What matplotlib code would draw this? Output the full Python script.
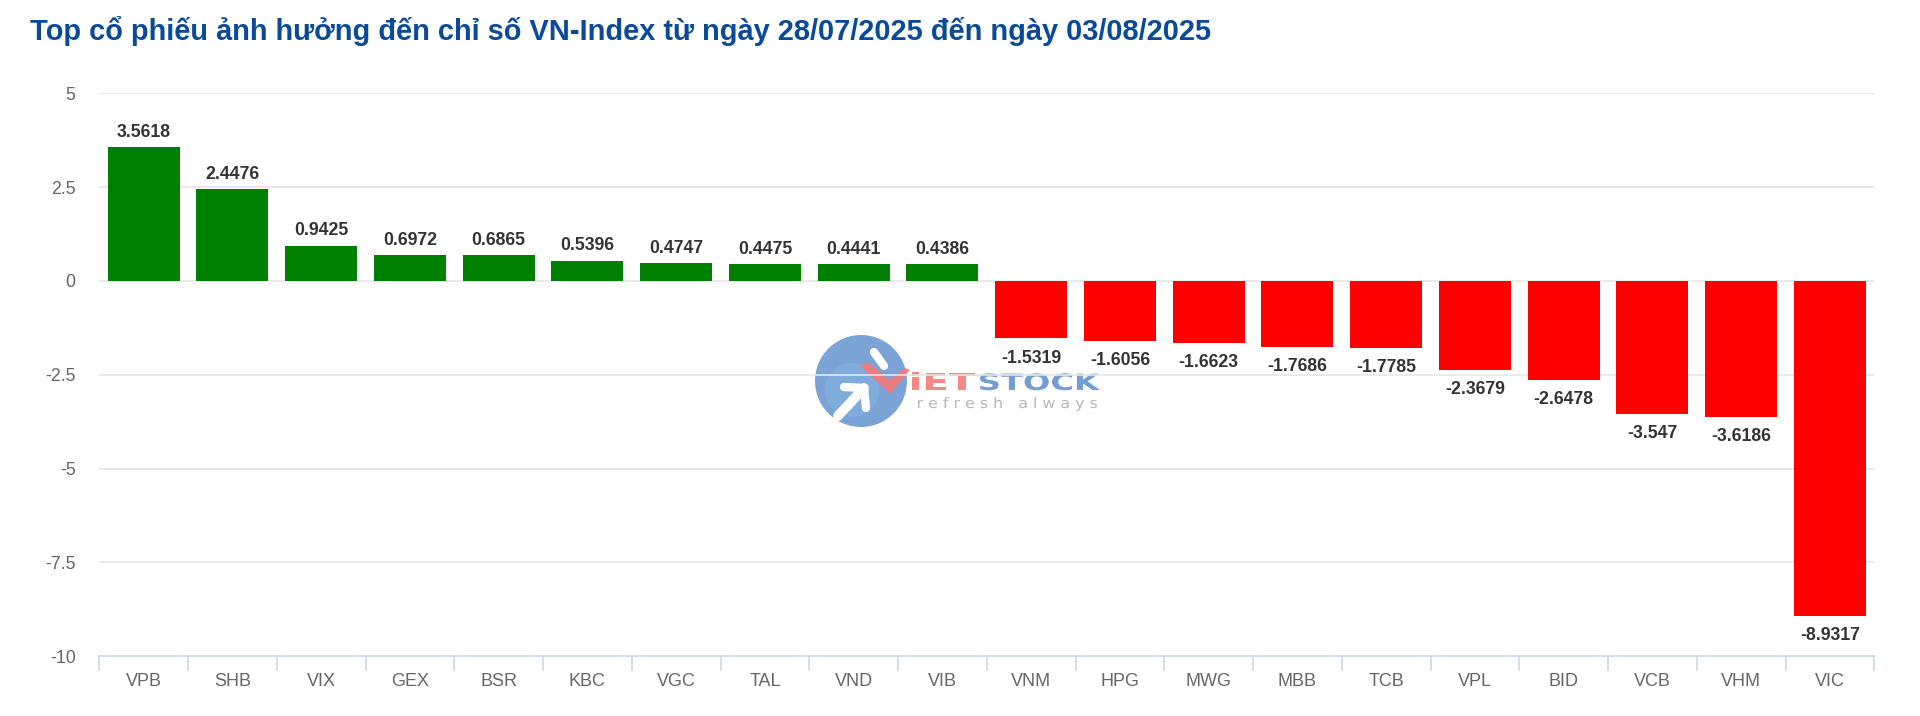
import matplotlib
matplotlib.use("Agg")
import matplotlib.pyplot as plt
from matplotlib.patches import Circle, Polygon, PathPatch
from matplotlib.lines import Line2D
from matplotlib.textpath import TextPath
from matplotlib.font_manager import FontProperties
from matplotlib.transforms import Affine2D, IdentityTransform

tickers = ["VPB", "SHB", "VIX", "GEX", "BSR", "KBC", "VGC", "TAL", "VND", "VIB",
           "VNM", "HPG", "MWG", "MBB", "TCB", "VPL", "BID", "VCB", "VHM", "VIC"]
impact = [3.5618, 2.4476, 0.9425, 0.6972, 0.6865, 0.5396, 0.4747, 0.4475, 0.4441, 0.4386,
          -1.5319, -1.6056, -1.6623, -1.7686, -1.7785, -2.3679, -2.6478, -3.547, -3.6186, -8.9317]
label_txt = ["3.5618", "2.4476", "0.9425", "0.6972", "0.6865", "0.5396", "0.4747", "0.4475", "0.4441", "0.4386",
             "-1.5319", "-1.6056", "-1.6623", "-1.7686", "-1.7785", "-2.3679", "-2.6478", "-3.547", "-3.6186", "-8.9317"]
yticks = [5, 2.5, 0, -2.5, -5, -7.5, -10]
ytick_labels = ["5", "2.5", "0", "-2.5", "-5", "-7.5", "-10"]

title = "Top cổ phiếu ảnh hưởng đến chỉ số VN-Index từ ngày 28/07/2025 đến ngày 03/08/2025"

plt.rcParams['font.family'] = ['Liberation Sans', 'DejaVu Sans']

W, H = 1920, 716
fig = plt.figure(figsize=(W / 100, H / 100), dpi=100)
ax = fig.add_axes([0.0517, 0.0834, 0.9245, 0.7863])
ax.set_zorder(2)
ax.patch.set_alpha(0)

x = list(range(len(tickers)))
colors = ["#008000" if v >= 0 else "#ff0000" for v in impact]
ax.bar(x, impact, width=0.81, color=colors, zorder=3)

# data labels
for i, v in enumerate(impact):
    if v >= 0:
        ax.annotate(label_txt[i], (i, v), xytext=(0, 4.5), textcoords="offset points",
                    ha="center", va="bottom", fontsize=12.7, fontweight="bold", color="#333333", zorder=5)
    else:
        ax.annotate(label_txt[i], (i, v), xytext=(0, -8), textcoords="offset points",
                    ha="center", va="top", fontsize=12.7, fontweight="bold", color="#333333", zorder=5)

ax.set_xlim(-0.5, len(tickers) - 0.5)
ax.set_ylim(-10, 5)
ax.set_yticks(yticks)
ax.set_yticklabels(ytick_labels)
ax.set_xticks(x)
ax.set_xticklabels(tickers)

# grid
for t in yticks[:-1]:
    ax.axhline(t, color="#e6e6e6", lw=1.2, zorder=1)

for s in ["top", "right", "left"]:
    ax.spines[s].set_visible(False)
ax.spines["bottom"].set_color("#ccd6eb")
ax.spines["bottom"].set_linewidth(1.2)

ax.tick_params(axis="y", length=0, labelsize=12.8, labelcolor="#666666", pad=17)
ax.tick_params(axis="x", length=0, labelsize=13, labelcolor="#666666", pad=12)

# category boundary ticks
for b in range(len(tickers) + 1):
    ax.plot([b - 0.5, b - 0.5], [0, -0.025], transform=ax.get_xaxis_transform(),
            color="#ccd6eb", lw=1.2, clip_on=False)


# ---- watermark (pixel coords, y from top) ----
def fit_text(s, x0, x1, base, height, color, alpha=1.0, weight="normal", ref="H"):
    fp = FontProperties(family="DejaVu Sans", weight=weight)
    tp = TextPath((0, 0), s, size=100, prop=fp)
    ext = tp.get_extents()
    ch = TextPath((0, 0), ref, size=100, prop=fp).get_extents().height
    sx = (x1 - x0) / ext.width
    sy = height / ch
    tr = Affine2D().translate(-ext.x0, 0).scale(sx, sy).translate(x0, H - base)
    fig.add_artist(PathPatch(tp, transform=tr, color=color, alpha=alpha, lw=0, zorder=1))


tid = IdentityTransform()
fig.add_artist(Circle((861, H - 381), 46, transform=tid, color="#6593cf", alpha=0.85, lw=0, zorder=0.5))
fig.add_artist(Circle((852, H - 390), 27, transform=tid, color="#86b8e3", alpha=0.45, lw=0, zorder=0.6))
# white arrows
fig.add_artist(Line2D([838, 864], [H - 416, H - 388], transform=tid, color="white", lw=7, zorder=0.8,
                      solid_capstyle="round"))
fig.add_artist(Line2D([844, 864, 866], [H - 387, H - 388, H - 408], transform=tid, color="white", lw=6,
                      zorder=0.8, solid_capstyle="round"))
fig.add_artist(Line2D([874, 884], [H - 352, H - 366], transform=tid, color="white", lw=6, zorder=0.8,
                      solid_capstyle="round"))
# red V swoosh
fig.add_artist(Polygon([(860, H - 366), (868, H - 362), (889, H - 380), (905, H - 368), (910, H - 370),
                        (890, H - 394)], closed=True, transform=tid, color="#f47a7a", alpha=0.9, lw=0,
                       zorder=0.9))
fit_text("iET", 912, 975, 390, 17, "#f47a7a", 0.9, weight="bold", ref="E")
fit_text("STOCK", 980, 1100, 390, 17, "#6593cf", 0.9, weight="bold", ref="S")
fit_text("r e f r e s h   a l w a y s", 918, 1097, 408, 11, "#b8b8b8", 1.0, ref="h")

fig.text(30 / W, 1 - 40 / H, title, fontsize=20.9, fontweight="bold", color="#0b4a99",
         ha="left", va="baseline")

fig.savefig("out.png", dpi=100, facecolor="white")
